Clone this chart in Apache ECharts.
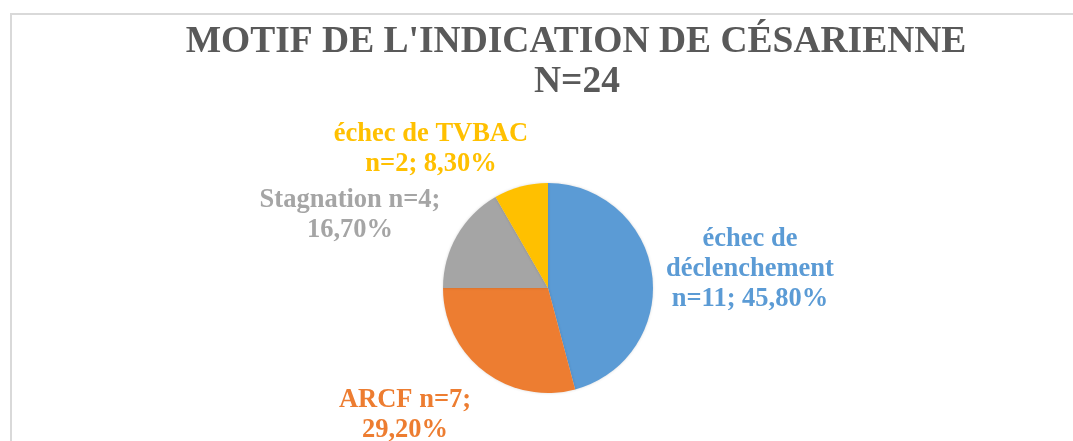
<!DOCTYPE html>
<html>
<head>
<meta charset="utf-8">
<script src="https://cdn.jsdelivr.net/npm/echarts@6/dist/echarts.min.js"></script>
<style>
html,body{margin:0;padding:0;background:#fff;}
#chart{width:1073px;height:441px;}
</style>
</head>
<body>
<div id="chart"></div>
<script>
// Data
var categories = ['échec de\ndéclenchement', 'ARCF', 'Stagnation', 'échec de TVBAC'];
var counts = [11, 7, 4, 2];
var percents = ['45,80%', '29,20%', '16,70%', '8,30%'];
var sepNameCount = ['\n', ' ', ' ', '\n'];
var sepCountPct = ['; ', ';\n', ';\n', '; '];
var colors = ['#5B9BD5', '#ED7D31', '#A5A5A5', '#FFC000'];
var titleLine1 = "MOTIF DE L'INDICATION DE CÉSARIENNE";
var titleLine2 = 'N=24';

// label centre positions (layout only)
var labelPos = [[750, 269], [405, 415], [350, 215], [431, 149]];

var chart = echarts.init(document.getElementById('chart'));
var font = '"Liberation Serif", "Times New Roman", serif';

var data = categories.map(function (c, i) {
  return {
    name: c,
    value: counts[i],
    itemStyle: { color: colors[i] },
    label: { color: colors[i] }
  };
});

chart.setOption({
  backgroundColor: '#ffffff',
  animation: false,
  graphic: [
    { type: 'rect', shape: { x: 11, y: 14, width: 1200, height: 600 }, style: { fill: 'none', stroke: '#d9d9d9', lineWidth: 2 }, z: -1 },
    { type: 'text', x: 576, y: 42, style: { text: titleLine1, font: 'bold 37.5px ' + font, fill: '#595959', align: 'center', verticalAlign: 'middle' } },
    { type: 'text', x: 577, y: 82, style: { text: titleLine2, font: 'bold 37.5px ' + font, fill: '#595959', align: 'center', verticalAlign: 'middle' } }
  ],
  series: [{
    type: 'pie',
    center: [548, 288],
    radius: [0, 105],
    startAngle: 90,
    clockwise: true,
    data: data,
    itemStyle: { borderWidth: 0, shadowBlur: 3, shadowColor: 'rgba(0,0,0,0.15)' },
    labelLine: { show: false },
    label: {
      show: true,
      position: 'outside',
      fontFamily: font,
      fontWeight: 'bold',
      fontSize: 26.5,
      lineHeight: 30,
      align: 'center',
      formatter: function (p) {
        var i = p.dataIndex;
        return categories[i] + sepNameCount[i] + 'n=' + counts[i] + sepCountPct[i] + percents[i];
      }
    },
    labelLayout: function (params) {
      var pos = labelPos[params.dataIndex];
      return { x: pos[0], y: pos[1], align: 'center', verticalAlign: 'middle' };
    },
    emphasis: { disabled: true }
  }]
});
</script>
</body>
</html>
